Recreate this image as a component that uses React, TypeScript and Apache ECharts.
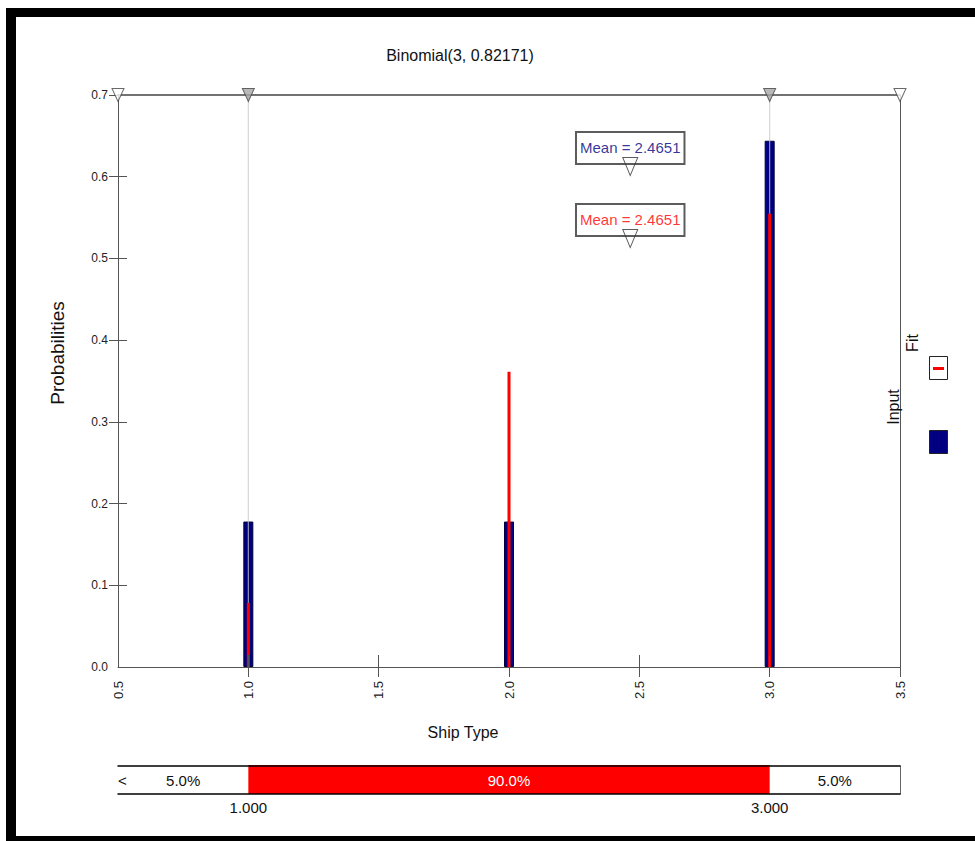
import React, { useEffect, useRef } from "react";
import * as echarts from "echarts";

// ---- data ----
const shipTypes = [1, 2, 3];
const inputProb = [0.178, 0.178, 0.644];
const fitProb = [0.0784, 0.3612, 0.5548];
const meanInput = 2.4651;
const meanFit = 2.4651;
const delimiters = [1, 3];
const sliderMarks = [0.5, 1, 3, 3.5];
const sliderFilled = [false, true, true, false];
const xTickValues = [1, 1.5, 2, 2.5, 3, 3.5];
const yTickValues = [0.1, 0.2, 0.3, 0.4, 0.5, 0.6, 0.7];
const bandStarts = [0.5, 1, 3];
const bandEnds = [1, 3, 3.5];
const bandLabels = ["5.0%", "90.0%", "5.0%"];
const boundValues = [1, 3];

const FONT = "Liberation Sans, Arial, sans-serif";
const AXIS_COLOR = "#555555";

export default function App() {
  const ref = useRef<HTMLDivElement>(null);
  useEffect(() => {
    if (!ref.current) return;
    const chart = echarts.init(ref.current, undefined, { renderer: "svg" });
    const meanLabel = (color: string, v: number) => ({
      show: true,
      position: "top",
      distance: -7,
      formatter: "Mean = " + v.toFixed(4),
      color,
      fontFamily: FONT,
      fontSize: 15,
      lineHeight: 18,
      padding: [7, 4, 7, 4],
      borderColor: "#333",
      borderWidth: 1,
      backgroundColor: "transparent",
    });
    const noLine = { show: false };
    const option: any = {
      animation: false,
      textStyle: { fontFamily: FONT },
      grid: [
        { left: 118, top: 95, width: 782, height: 572 },
        { left: 118, top: 766, width: 782, height: 28 },
      ],
      xAxis: [
        {
          gridIndex: 0, type: "value", position: "bottom", min: 0.5, max: 3.5, interval: 0.5,
          axisLine: { show: true, onZero: false, lineStyle: { color: AXIS_COLOR, width: 1 } },
          axisTick: { show: true, inside: false, length: 10, customValues: xTickValues, lineStyle: { color: AXIS_COLOR } },
          axisLabel: { show: true, rotate: 90, margin: 14, fontSize: 13, color: "#222", formatter: (v: number) => v.toFixed(1) },
          splitLine: noLine, z: 5,
        },
        {
          gridIndex: 0, type: "value", position: "bottom", min: 0.5, max: 3.5, interval: 0.5,
          axisLine: { show: false, onZero: false },
          axisTick: { show: true, inside: true, length: 12, customValues: xTickValues, lineStyle: { color: AXIS_COLOR } },
          axisLabel: { show: false }, splitLine: noLine, z: 5,
        },
        {
          gridIndex: 0, type: "value", position: "top", min: 0.5, max: 3.5, interval: 0.5,
          axisLine: { show: true, onZero: false, lineStyle: { color: "#444", width: 1.5 } },
          axisTick: { show: false }, axisLabel: { show: false }, splitLine: noLine, z: 5,
        },
        {
          gridIndex: 1, type: "value", position: "bottom", min: 0.5, max: 3.5, interval: 0.5,
          axisLine: { show: true, onZero: false, lineStyle: { color: "#000", width: 1.5 } },
          axisTick: { show: false },
          axisLabel: { show: true, customValues: boundValues, margin: 6, fontSize: 15, color: "#111", formatter: (v: number) => v.toFixed(3) },
          splitLine: noLine, z: 5,
        },
        {
          gridIndex: 1, type: "value", position: "top", min: 0.5, max: 3.5, interval: 0.5,
          axisLine: { show: true, onZero: false, lineStyle: { color: "#000", width: 1.5 } },
          axisTick: { show: false }, axisLabel: { show: false }, splitLine: noLine, z: 5,
        },
      ],
      yAxis: [
        {
          gridIndex: 0, type: "value", position: "left", min: 0, max: 0.7, interval: 0.1,
          axisLine: { show: true, onZero: false, lineStyle: { color: AXIS_COLOR } },
          axisTick: { show: true, inside: false, length: 9, customValues: yTickValues, lineStyle: { color: AXIS_COLOR } },
          axisLabel: { show: true, margin: 10, fontSize: 12, color: "#222", formatter: (v: number) => v.toFixed(1) },
          splitLine: noLine, z: 5,
        },
        {
          gridIndex: 0, type: "value", position: "left", min: 0, max: 0.7, interval: 0.1,
          axisLine: { show: false, onZero: false },
          axisTick: { show: true, inside: true, length: 9, customValues: yTickValues.slice(0, 6), lineStyle: { color: AXIS_COLOR } },
          axisLabel: { show: false }, splitLine: noLine, z: 5,
        },
        {
          gridIndex: 0, type: "value", position: "right", min: 0, max: 0.7, interval: 0.1,
          axisLine: { show: true, onZero: false, lineStyle: { color: AXIS_COLOR } },
          axisTick: { show: false }, axisLabel: { show: false }, splitLine: noLine, z: 5,
        },
        {
          gridIndex: 1, type: "value", position: "left", min: 0, max: 1,
          axisLine: { show: false, onZero: false }, axisTick: { show: false }, axisLabel: { show: false }, splitLine: noLine,
        },
        {
          gridIndex: 1, type: "value", position: "right", min: 0, max: 1,
          axisLine: { show: true, onZero: false, lineStyle: { color: "#666" } },
          axisTick: { show: false }, axisLabel: { show: false }, splitLine: noLine, z: 5,
        },
      ],
      series: [
        {
          name: "Input", type: "bar", xAxisIndex: 0, yAxisIndex: 0, barWidth: 10, z: 2,
          itemStyle: { color: "#000080", borderColor: "#00003a", borderWidth: 1 },
          data: shipTypes.map((x, i) => [x, inputProb[i]]),
        },
        ...delimiters.map((d) => ({
          type: "line", xAxisIndex: 0, yAxisIndex: 0, symbol: "none", z: 3, silent: true,
          lineStyle: { color: "rgba(200,200,200,0.75)", width: 1.2 },
          data: [[d, 0], [d, 0.7]],
        })),
        {
          name: "Fit", type: "bar", xAxisIndex: 1, yAxisIndex: 0, barWidth: 3, z: 4,
          itemStyle: { color: "#ff0000" },
          data: shipTypes.map((x, i) => [x, fitProb[i]]),
        },
        {
          type: "scatter", xAxisIndex: 0, yAxisIndex: 0, symbol: "triangle", symbolRotate: 180,
          symbolSize: [12, 13], clip: false, z: 6,
          data: sliderMarks.map((x, i) => ({
            value: [x, 0.7],
            itemStyle: { color: sliderFilled[i] ? "#a8a8a8" : "#ffffff", borderColor: "#444", borderWidth: 1 },
          })),
        },
        {
          type: "scatter", xAxisIndex: 0, yAxisIndex: 0, symbol: "triangle", symbolRotate: 180,
          symbolSize: [15, 18], clip: false, z: 6,
          itemStyle: { color: "#ffffff", borderColor: "#333", borderWidth: 1 },
          label: meanLabel("#000080", meanInput),
          data: [[meanInput, 0.6125]],
        },
        {
          type: "scatter", xAxisIndex: 0, yAxisIndex: 0, symbol: "triangle", symbolRotate: 180,
          symbolSize: [15, 18], clip: false, z: 6,
          itemStyle: { color: "#ffffff", borderColor: "#333", borderWidth: 1 },
          label: meanLabel("#ff0000", meanFit),
          data: [[meanFit, 0.5244]],
        },
        {
          type: "custom", xAxisIndex: 3, yAxisIndex: 3, z: 1, clip: false,
          data: bandStarts.map((s, i) => [s, bandEnds[i], i]),
          renderItem: (params: any, api: any) => {
            const i = api.value(2);
            const p0 = api.coord([api.value(0), 1]);
            const p1 = api.coord([api.value(1), 0]);
            const mid = i === 1;
            return {
              type: "group",
              children: [
                {
                  type: "rect",
                  shape: { x: p0[0], y: p0[1] - 1, width: p1[0] - p0[0], height: p1[1] - p0[1] + 1 },
                  style: { fill: mid ? "#ff0000" : "none" },
                },
                {
                  type: "text",
                  x: (p0[0] + p1[0]) / 2,
                  y: (p0[1] + p1[1]) / 2,
                  style: {
                    text: bandLabels[i], fill: mid ? "#ffffff" : "#111111",
                    font: "15px " + FONT, align: "center", verticalAlign: "middle",
                  },
                },
              ],
            };
          },
        },
      ],
      graphic: [
        { type: "rect", z: 100, shape: { x: 6, y: 8, width: 969, height: 9 }, style: { fill: "#000" } },
        { type: "rect", z: 100, shape: { x: 6, y: 8, width: 10, height: 833 }, style: { fill: "#000" } },
        { type: "rect", z: 100, shape: { x: 6, y: 836, width: 969, height: 5 }, style: { fill: "#000" } },
        {
          type: "text", z: 100, x: 460, y: 55,
          style: { text: "Binomial(3, 0.82171)", font: "16px " + FONT, fill: "#111", align: "center", verticalAlign: "middle" },
        },
        {
          type: "text", z: 100, x: 463, y: 732,
          style: { text: "Ship Type", font: "16px " + FONT, fill: "#111", align: "center", verticalAlign: "middle" },
        },
        {
          type: "text", z: 100, x: 57, y: 353, rotation: Math.PI / 2,
          style: { text: "Probabilities", font: "19px " + FONT, fill: "#111", align: "center", verticalAlign: "middle" },
        },
        {
          type: "text", z: 100, x: 912, y: 343, rotation: Math.PI / 2,
          style: { text: "Fit", font: "16px " + FONT, fill: "#111", align: "center", verticalAlign: "middle" },
        },
        {
          type: "text", z: 100, x: 893, y: 407, rotation: Math.PI / 2,
          style: { text: "Input", font: "16px " + FONT, fill: "#111", align: "center", verticalAlign: "middle" },
        },
        { type: "rect", z: 100, shape: { x: 929.5, y: 356.5, width: 18, height: 23 }, style: { fill: "#fff", stroke: "#222", lineWidth: 1 } },
        { type: "rect", z: 100, shape: { x: 933, y: 367, width: 11, height: 3 }, style: { fill: "#ff0000" } },
        { type: "rect", z: 100, shape: { x: 929.5, y: 430.5, width: 18, height: 23 }, style: { fill: "#000080", stroke: "#222", lineWidth: 1 } },
        {
          type: "text", z: 100, x: 118, y: 780,
          style: { text: "<", font: "15px " + FONT, fill: "#111", align: "left", verticalAlign: "middle" },
        },
      ],
    };
    chart.setOption(option);
    return () => chart.dispose();
  }, []);
  return (
    <div
      ref={ref}
      style={{ position: "absolute", left: 0, top: 0, width: 975, height: 841, background: "#fff" }}
    />
  );
}
